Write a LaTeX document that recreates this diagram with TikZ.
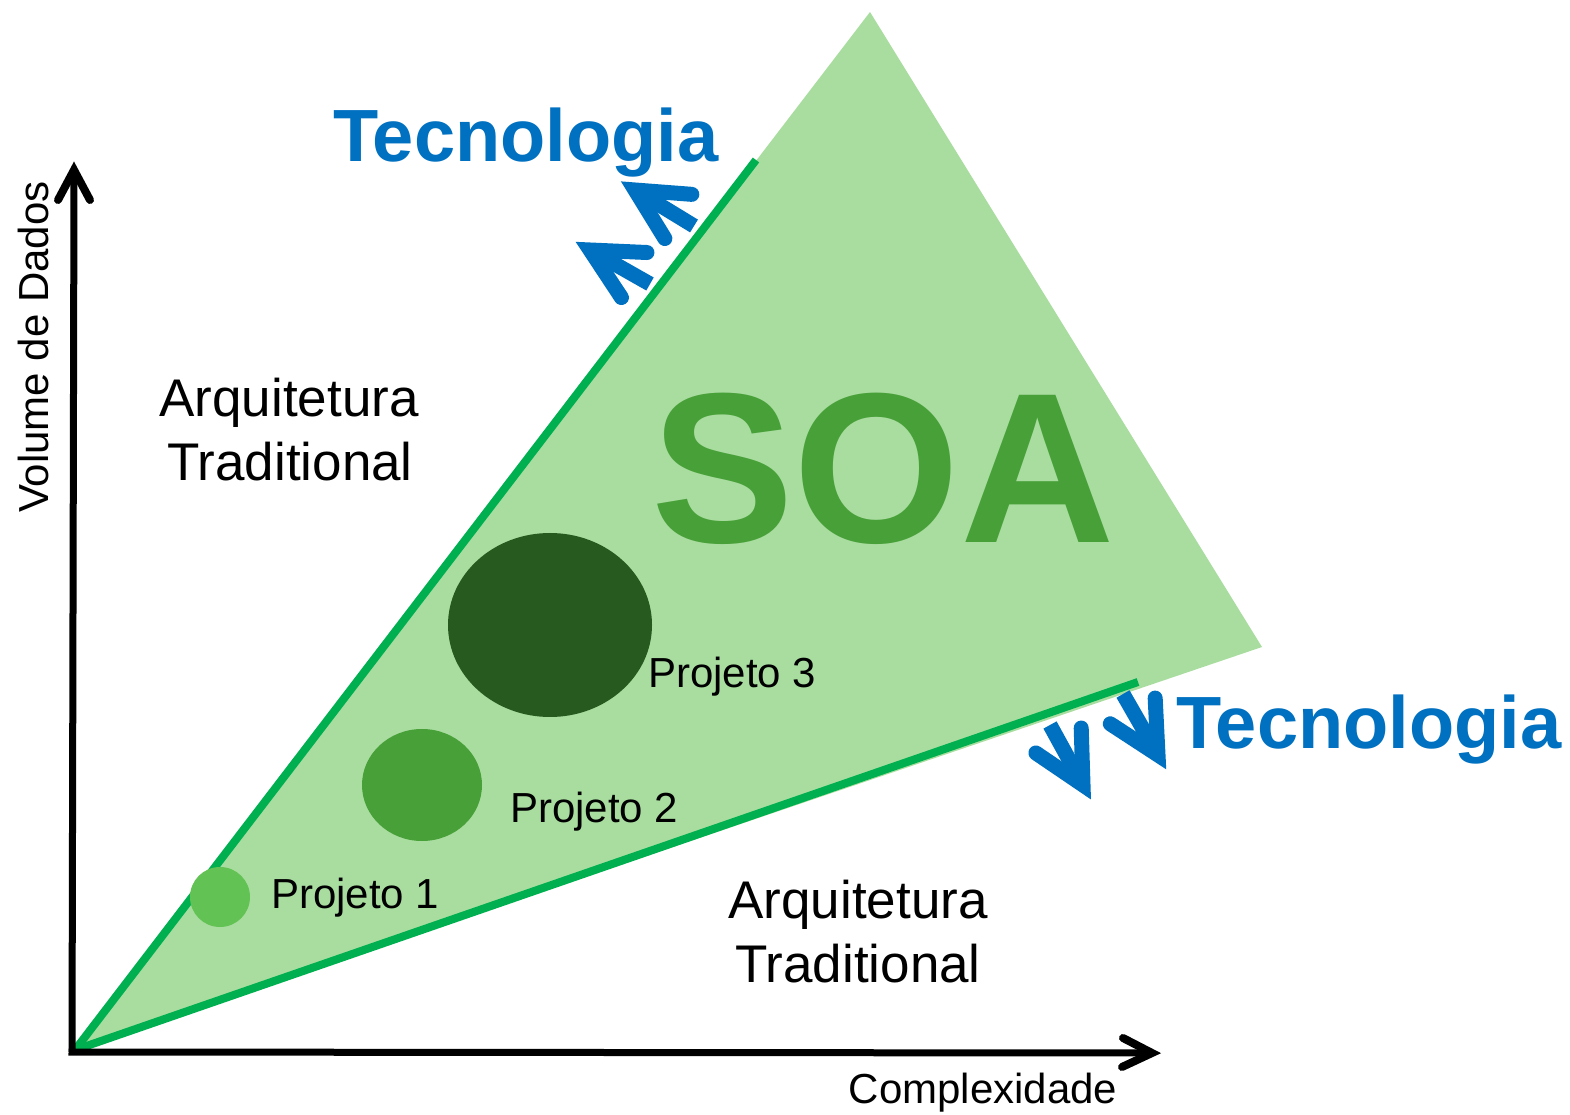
\documentclass[tikz,border=0pt]{standalone}
\usepackage{fontspec}
\setmainfont{Liberation Sans}
\usetikzlibrary{calc}
\definecolor{lightg}{HTML}{A9DDA0}
\definecolor{lineg}{HTML}{00B050}
\definecolor{midg}{HTML}{48A038}
\definecolor{p1g}{HTML}{63C254}
\definecolor{darkg}{HTML}{265A1E}
\definecolor{techblue}{HTML}{0070C0}
\tikzset{
  greenline/.style={draw=lineg,line width=8pt},
  axisline/.style={draw=black,line width=7pt},
  axishead/.style={draw=black,line width=8pt,line cap=round,line join=miter},
  bshaft/.style={draw=techblue,line width=15pt,line cap=butt},
  bhead/.style={draw=techblue,line width=15pt,line cap=round,line join=miter,miter limit=10},
  lbl/.style={inner sep=0pt,font=\fontsize{42}{50}\selectfont},
  arq/.style={inner sep=0pt,anchor=base,font=\fontsize{53}{63}\selectfont},
  tec/.style={inner sep=0pt,anchor=base west,text=techblue,font=\fontsize{74}{88}\selectfont\bfseries},
  blob/.style={draw=none}
}
\newcommand{\techarrow}[2]{%
  \draw[bshaft] (#1) -- ($(#2)!3pt!(#1)$);
  \draw[bhead] ($(#2)!57pt!27:(#1)$) -- (#2) -- ($(#2)!57pt!-27:(#1)$);
}
\begin{document}
\begin{tikzpicture}[x=1pt,y=1pt]
\useasboundingbox (0,0) rectangle (1570,1114);
% triangle
\coordinate (O) at (75,64);
\coordinate (T1) at (870,1102);
\coordinate (T2) at (1262,467);
\fill[lightg] (O) -- (T1) -- (T2) -- cycle;
\coordinate (G1) at (756,954);
\coordinate (G2) at (1138,432);
\draw[greenline] (O) -- (G1);
\draw[greenline] (O) -- (G2);
% axes
\coordinate (A0) at (72,62);
\coordinate (AY) at (74,944);
\coordinate (AX) at (1152,61);
\draw[axisline] (A0) -- ($(AY)+(0,-4)$);
\draw[axisline] ($(A0)+(-3.5,0)$) -- ($(AX)+(-4,0)$);
\draw[axishead] (58,914) -- (AY) -- (90,914);
\draw[axishead] (1123,76) -- (AX) -- (1122,47);
% blobs
\fill[p1g] (220,217) ellipse [x radius=30pt,y radius=30pt];
\node[blob] (p1) at (220,217) {};
\fill[midg] (422,329) ellipse [x radius=60pt,y radius=56pt];
\node[blob] (p2) at (422,329) {};
\fill[darkg] (550,489) ellipse [x radius=102pt,y radius=92pt];
\node[blob] (p3) at (550,489) {};
% labels
\node[lbl,anchor=base west] (l1) at (271,206) {Projeto 1};
\node[lbl,anchor=base west] (l2) at (510,292) {Projeto 2};
\node[lbl,anchor=base west] (l3) at (648,426) {Projeto 3};
\node[arq] (a1) at (289,697) {Arquitetura};
\node[arq] (a2) at (290,633) {Traditional};
\node[arq] (a3) at (858,196) {Arquitetura};
\node[arq] (a4) at (858,132) {Traditional};
\node[inner sep=0pt,anchor=base,text=midg,font=\fontsize{214}{250}\selectfont\bfseries] (soa) at (883,571) {SOA};
\node[tec] (tec1) at (333,952) {Tecnologia};
\node[tec] (tec2) at (1176,365) {Tecnologia};
\node[lbl,rotate=90,anchor=center] (vol) at (33,767) {Volume de Dados};
\node[lbl,anchor=base] (cmp) at (983,11) {Complexidade};
% blue arrows
\coordinate (u1tip) at (635,924); \coordinate (u1tail) at (694,888);
\coordinate (u2tip) at (590,864); \coordinate (u2tail) at (650,830);
\coordinate (d1tip) at (1083,329); \coordinate (d1tail) at (1050,389);
\coordinate (d2tip) at (1158,359); \coordinate (d2tail) at (1123,420);
\techarrow{u1tail}{u1tip}
\techarrow{u2tail}{u2tip}
\techarrow{d1tail}{d1tip}
\techarrow{d2tail}{d2tip}
\end{tikzpicture}
\end{document}
